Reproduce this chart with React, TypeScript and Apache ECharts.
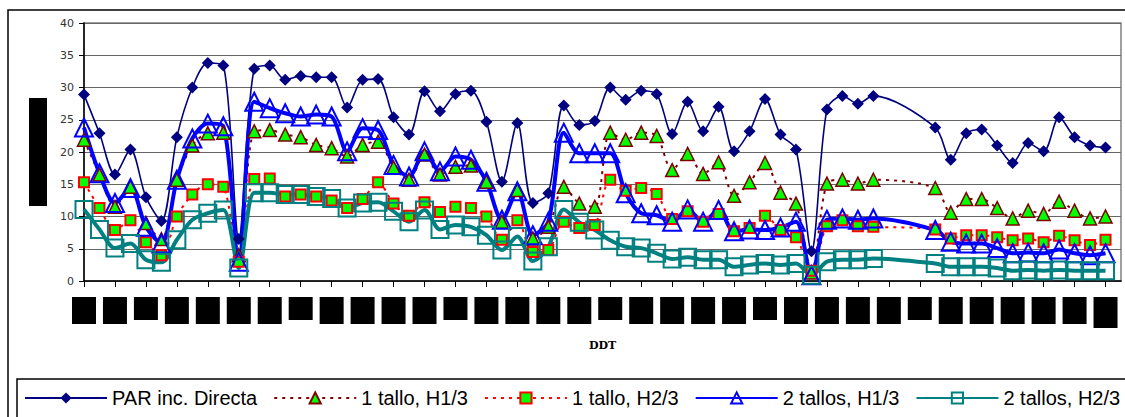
import React, { useEffect, useRef } from 'react';
import * as echarts from 'echarts';

// DDT categories (labels are redacted in the reference)
const ddt = [
  '1', '2', '3', '4', '5', '6', '7', '8', '9', '10', '11', '12', '13', '14', '15', '16', '17',
  '18', '19', '20', '21', '22', '23', '24', '25', '26', '27', '28', '29', '30', '31', '32', '33', '34',
  '35', '36', '37', '38', '39', '40', '41', '42', '43', '44', '45', '46', '47', '48', '49', '50', '51',
  '52', '53', '54', '55', '56', '57', '58', '59', '60', '61', '62', '63', '64', '65', '66', '67', '68',
];
const shortLabelIdx = [4, 14, 24, 34, 44, 54];
const tallLabelIdx = [66];

const parIncDirecta = [
  28.9, 22.9, 16.5, 20.4, 13.0, 9.3, 22.3, 30.0, 33.8, 33.4, 6.5, 32.9, 33.4, 31.2, 31.8, 31.6, 31.6,
  26.9, 31.2, 31.3, 25.4, 22.7, 29.4, 26.3, 29.0, 29.5, 24.7, 15.4, 24.5, 12.1, 13.6, 27.2, 24.2, 24.8,
  30.0, 28.1, 29.5, 29.0, 22.8, 27.8, 23.2, 27.0, 20.1, 23.2, 28.2, 22.7, 20.4, 4.6, 26.6, 28.7, 27.5,
  28.7, null, null, null, 23.8, 18.8, 22.9, 23.5, 21.0, 18.3, 21.4, 20.1, 25.4, 22.3, 21.0, 20.7, null,
];
const unTalloH13 = [
  21.9, 16.5, 11.5, 14.6, 9.0, 6.5, 15.7, 21.0, 22.9, 23.0, 4.0, 23.2, 23.4, 22.7, 22.3, 21.1, 20.6,
  19.3, 21.1, 21.6, 17.6, 15.7, 19.6, 16.5, 17.7, 17.9, 15.4, 9.2, 14.1, 6.6, 8.4, 14.6, 12.0, 11.5,
  23.0, 21.9, 23.0, 22.5, 17.2, 19.7, 16.6, 18.4, 13.2, 15.3, 18.3, 13.7, 12.0, 1.3, 15.1, 15.7, 15.1,
  15.7, null, null, null, 14.4, 10.6, 12.7, 12.7, 11.3, 9.7, 10.9, 10.4, 12.3, 10.9, 9.7, 10.0, null,
];
const unTalloH23 = [
  15.3, 11.3, 7.9, 9.4, 6.0, 4.0, 10.0, 13.4, 15.0, 14.6, 3.0, 15.8, 15.9, 13.1, 13.4, 13.1, 12.5,
  11.3, 12.7, 15.3, 12.0, 10.1, 12.2, 10.7, 11.5, 11.3, 10.0, 6.4, 9.4, 4.5, 4.8, 9.2, 8.2, 8.7,
  15.7, 14.0, 14.4, 13.5, 9.6, 10.8, 9.2, 10.4, 7.7, 8.2, 10.1, 7.9, 6.8, 1.6, 8.5, 9.4, 8.5,
  8.4, null, null, null, 8.0, 6.6, 7.1, 7.1, 6.8, 6.3, 6.6, 6.0, 7.0, 6.3, 5.6, 6.4, null,
];
const dosTallosH13 = [
  23.8, 16.7, 12.1, 14.4, 8.4, 5.8, 15.7, 22.1, 24.4, 24.0, 3.0, 27.8, 26.8, 26.0, 25.5, 25.8, 25.5,
  20.1, 23.7, 23.4, 18.0, 16.2, 20.1, 17.0, 19.3, 18.8, 15.4, 9.5, 13.9, 7.1, 9.2, 23.0, 19.8, 19.8,
  19.8, 13.6, 10.5, 10.2, 9.2, 11.1, 9.2, 11.0, 7.7, 8.0, 7.9, 8.3, 9.2, 0.9, 9.5, 9.7, 9.5,
  9.7, null, null, null, 7.9, 6.1, 5.8, 5.8, 5.1, 4.3, 4.4, 4.3, 4.9, 4.3, 4.0, 4.3, null,
];
const dosTallosH23 = [
  11.1, 8.0, 5.1, 5.8, 3.3, 2.9, 6.4, 9.5, 10.5, 11.0, 2.0, 13.7, 13.7, 13.4, 13.4, 13.1, 12.8,
  11.3, 12.1, 12.2, 10.8, 9.2, 11.0, 8.0, 8.7, 8.4, 7.1, 4.8, 6.9, 3.1, 5.3, 11.1, 9.1, 7.9,
  6.3, 5.3, 5.1, 4.3, 3.4, 3.7, 3.3, 3.3, 2.2, 2.5, 2.7, 2.5, 2.7, 0.9, 3.0, 3.3, 3.3,
  3.5, null, null, null, 2.7, 2.2, 2.2, 2.2, 2.0, 1.6, 1.7, 1.6, 1.7, 1.6, 1.6, 1.6, null,
];

const seriesNames = ['PAR inc. Directa', '1 tallo, H1/3', '1 tallo, H2/3', '2 tallos, H1/3', '2 tallos, H2/3'];

export default function App() {
  const ref = useRef<HTMLDivElement>(null);

  useEffect(() => {
    if (!ref.current) return;
    const chart = echarts.init(ref.current, null, { renderer: 'svg' });
    const common = {
      type: 'line',
      connectNulls: true,
      smooth: 0.3,
      showAllSymbol: true,
      symbolKeepAspect: true,
    };
    chart.setOption({
      animation: false,
      backgroundColor: '#ffffff',
      grid: { left: 84, right: 4, top: 23, bottom: 136, show: true, borderColor: '#808080', borderWidth: 1.5 },
      xAxis: {
        type: 'category',
        data: ddt,
        boundaryGap: false,
        axisLine: { lineStyle: { color: '#000', width: 1.5 } },
        axisTick: { interval: 1, length: 6, lineStyle: { color: '#000', width: 1 } },
        axisLabel: {
          interval: 1,
          margin: 16,
          formatter: (v: string, idx: number) => {
            if (shortLabelIdx.includes(idx)) return `{s|${v}}`;
            if (tallLabelIdx.includes(idx)) return `{t|${v}}`;
            return `{b|${v}}`;
          },
          rich: {
            b: { width: 24, height: 27, backgroundColor: '#000', color: '#000', align: 'center', fontSize: 10 },
            s: { width: 24, height: 23, backgroundColor: '#000', color: '#000', align: 'center', fontSize: 10 },
            t: { width: 24, height: 31, backgroundColor: '#000', color: '#000', align: 'center', fontSize: 10 },
          },
        },
        splitLine: { show: false },
        name: 'DDT',
        nameLocation: 'middle',
        nameGap: 59,
        nameTextStyle: { fontFamily: 'DejaVu Serif', fontWeight: 'bold', fontSize: 11, color: '#000' },
      },
      yAxis: {
        type: 'value',
        min: 0,
        max: 40,
        interval: 5,
        axisLine: { show: true, lineStyle: { color: '#000', width: 1.5 } },
        axisTick: { show: true, length: 5, lineStyle: { color: '#000' } },
        axisLabel: { fontSize: 11, color: '#333', fontFamily: 'DejaVu Sans', margin: 10 },
        splitLine: { lineStyle: { color: '#666', width: 1 } },
        name: '{b|PAR}',
        nameLocation: 'middle',
        nameRotate: 90,
        nameGap: 37,
        nameTextStyle: {
          rich: { b: { width: 108, height: 18, backgroundColor: '#000', color: '#000', align: 'center' } },
        },
      },
      legend: {
        left: 24,
        top: 388,
        padding: 0,
        itemWidth: 82,
        itemHeight: 14,
        itemGap: 16,
        textStyle: { fontSize: 20, fontFamily: 'Liberation Sans, Arial', color: '#000' },
        data: seriesNames,
      },
      graphic: [
        {
          type: 'rect', silent: true,
          shape: { x: 8, y: 10, width: 1400, height: 700 },
          style: { fill: 'none', stroke: '#000', lineWidth: 1.5 },
        },
        {
          type: 'rect', silent: true,
          shape: { x: 17, y: 379, width: 1400, height: 200 },
          style: { fill: 'none', stroke: '#000', lineWidth: 1.5 },
        },
      ],
      series: [
        {
          ...common,
          name: seriesNames[0],
          data: parIncDirecta,
          symbol: 'diamond',
          symbolSize: 12,
          itemStyle: { color: '#000080' },
          lineStyle: { color: '#000080', width: 1.6 },
        },
        {
          ...common,
          name: seriesNames[1],
          data: unTalloH13,
          symbol: 'triangle',
          symbolSize: 13,
          itemStyle: { color: '#00FF00', borderColor: '#800000', borderWidth: 1.5 },
          lineStyle: { color: '#800000', width: 2, type: [3, 5] },
        },
        {
          ...common,
          name: seriesNames[2],
          data: unTalloH23,
          symbol: 'rect',
          symbolSize: 10,
          itemStyle: { color: '#00FF00', borderColor: '#FF0000', borderWidth: 2 },
          lineStyle: { color: '#FF0000', width: 2, type: [3, 5] },
        },
        {
          ...common,
          name: seriesNames[3],
          data: dosTallosH13,
          symbol: 'triangle',
          symbolSize: 18,
          itemStyle: { color: 'rgba(255,255,255,0)', borderColor: '#0000FF', borderWidth: 2 },
          lineStyle: { color: '#0000FF', width: 4 },
        },
        {
          ...common,
          name: seriesNames[4],
          data: dosTallosH23,
          symbol: 'rect',
          symbolSize: 17,
          itemStyle: { color: 'rgba(255,255,255,0)', borderColor: '#008080', borderWidth: 2 },
          lineStyle: { color: '#008080', width: 4 },
        },
      ],
    });
    return () => chart.dispose();
  }, []);

  return (
    <div
      ref={ref}
      style={{ position: 'fixed', left: 0, top: 0, width: 1125, height: 417, background: '#fff' }}
    />
  );
}
